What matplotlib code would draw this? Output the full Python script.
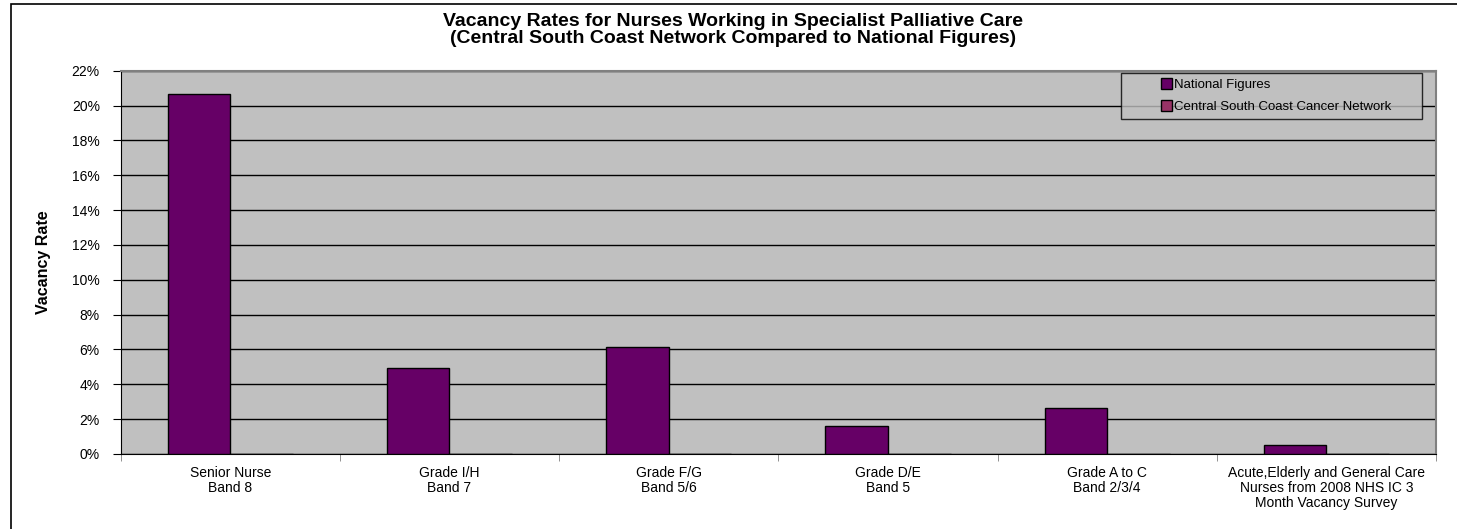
import matplotlib.pyplot as plt
import matplotlib.patches as mpatches
import numpy as np
from matplotlib.ticker import FuncFormatter, MultipleLocator
from matplotlib.legend_handler import HandlerPatch, update_from_first_child
from matplotlib.container import BarContainer

plt.rcParams['font.family'] = ['Liberation Sans', 'DejaVu Sans']

categories = ['Senior Nurse\nBand 8', 'Grade I/H\nBand 7', 'Grade F/G\nBand 5/6',
              'Grade D/E\nBand 5', 'Grade A to C\nBand 2/3/4',
              'Acute,Elderly and General Care\nNurses from 2008 NHS IC 3\nMonth Vacancy Survey']
national = [0.2065, 0.0495, 0.0616, 0.0161, 0.0266, 0.0050]
central_south = [0, 0, 0, 0, 0, 0]

fig = plt.figure(figsize=(14.57, 5.29), dpi=100)
ax = fig.add_axes([0.0828, 0.1418, 0.9028, 0.7246])

# outer chart border
fig.patches.append(mpatches.Rectangle((11 / 1457, -0.01), 1.0, (525 / 529) + 0.01,
                                      transform=fig.transFigure, fill=False,
                                      edgecolor='black', linewidth=1.2))

x = np.arange(len(categories))
w = 1 / 3.5
ax.bar(x - w / 2, national, w, color='#660066', edgecolor='black', linewidth=1,
       label='National Figures', zorder=3)
ax.bar(x + w / 2, central_south, w, color='#993366', edgecolor='black', linewidth=1,
       label='Central South Coast Cancer Network', zorder=3)

ax.set_facecolor('#C0C0C0')
ax.set_xlim(-0.5, len(categories) - 0.5)
ax.set_ylim(0, 0.22)
ax.yaxis.set_major_locator(MultipleLocator(0.02))
ax.yaxis.set_major_formatter(FuncFormatter(lambda v, p: f'{v * 100:.0f}%'))
ax.grid(axis='y', color='black', linewidth=1, zorder=1)
ax.set_axisbelow(True)

ax.set_xticks(x)
ax.set_xticklabels(categories, fontsize=10, linespacing=1.05)
ax.set_xticks(np.arange(len(categories) + 1) - 0.5, minor=True)
ax.tick_params(axis='x', which='major', length=0, pad=9)
ax.tick_params(axis='x', which='minor', length=5, color='#808080', direction='out')
ax.tick_params(axis='y', length=6, labelsize=10, direction='out', pad=9)

for s in ['top', 'right']:
    ax.spines[s].set_color('#808080')
    ax.spines[s].set_linewidth(1.5)
ax.spines['left'].set_color('black')
ax.spines['bottom'].set_color('black')

ax.set_ylabel('Vacancy Rate', fontsize=11.5, fontweight='bold', labelpad=15)
fig.text(0.503, 0.943, 'Vacancy Rates for Nurses Working in Specialist Palliative Care\n'
         '(Central South Coast Network Compared to National Figures)',
         ha='center', va='center', fontsize=14, fontweight='bold', linespacing=0.95)


def square_right(legend, orig_handle, xdescent, ydescent, width, height, fontsize):
    s = 7.5
    return mpatches.Rectangle((-xdescent + width - s, -ydescent + (height - s) / 2), s, s)


leg = ax.legend(loc='upper left', bbox_to_anchor=(0.7605, 0.994, 0.2289, 0), mode='expand',
                fontsize=9.5, frameon=True, fancybox=False, facecolor='#C0C0C0',
                edgecolor='black', handlelength=3.4, handleheight=0.7, handletextpad=0.2,
                borderpad=0.45, labelspacing=0.75, borderaxespad=0,
                handler_map={BarContainer: HandlerPatch(patch_func=square_right,
                                                        update_func=update_from_first_child)})
leg.get_frame().set_linewidth(1)

fig.savefig('out.png', dpi=100)
